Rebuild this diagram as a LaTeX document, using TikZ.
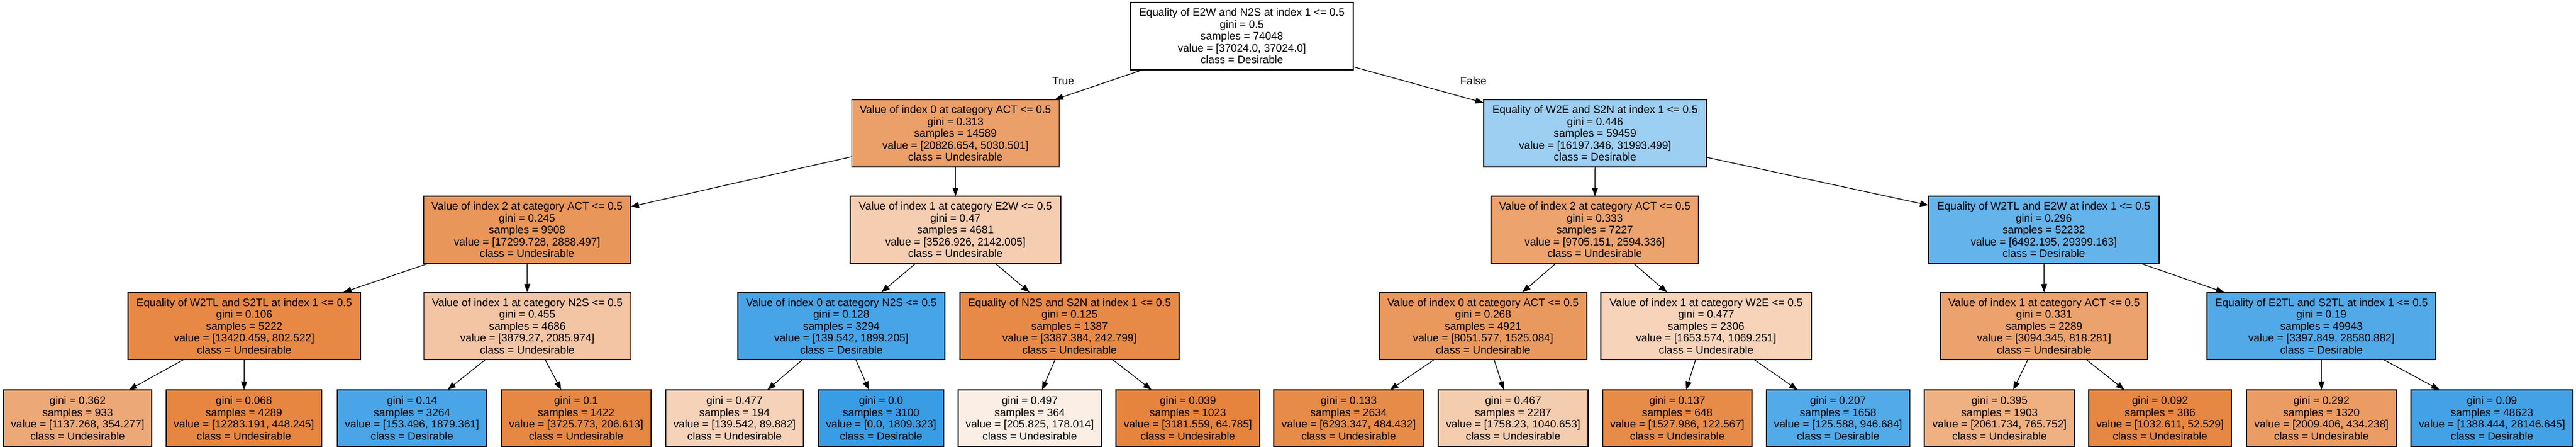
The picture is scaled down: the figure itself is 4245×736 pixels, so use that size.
\documentclass[tikz,border=0pt]{standalone}
\usepackage{fontspec}
\setmainfont{Liberation Sans}
\usetikzlibrary{arrows.meta}
\definecolor{dtorange}{RGB}{229,129,57}
\definecolor{dtblue}{RGB}{57,157,229}
\begin{document}
\begin{tikzpicture}[x=1pt,y=-1pt,
 tnode/.style={draw=black, line width=1.3pt, inner sep=0pt, outer sep=0pt, align=center, font=\fontsize{17.8}{19.5}\selectfont},
 inode/.style={tnode, minimum height=111pt},
 leaf/.style={tnode, minimum height=93pt},
 edge/.style={line width=1.2pt, -{Triangle[length=14pt,width=10pt]}},
 elabel/.style={font=\fontsize{17.8}{19.5}\selectfont, inner sep=0pt}]
\useasboundingbox (0,0) rectangle (4245,736);
% level 0
\node[inode, minimum width=367pt, fill=white] (root) at (2046.5,59.5) {Equality of E2W and N2S at index 1 <= 0.5\\gini = 0.5\\samples = 74048\\value = [37024.0, 37024.0]\\class = Desirable};
% level 1
\node[inode, minimum width=342pt, fill=dtorange!75.9!white] (l1a) at (1574.5,219.5) {Value of index 0 at category ACT <= 0.5\\gini = 0.313\\samples = 14589\\value = [20826.654, 5030.501]\\class = Undesirable};
\node[inode, minimum width=367pt, fill=dtblue!49.4!white] (l1b) at (2628.5,219.5) {Equality of W2E and S2N at index 1 <= 0.5\\gini = 0.446\\samples = 59459\\value = [16197.346, 31993.499]\\class = Desirable};
% level 2
\node[inode, minimum width=341pt, fill=dtorange!83.3!white] (l2a) at (868.5,378.5) {Value of index 2 at category ACT <= 0.5\\gini = 0.245\\samples = 9908\\value = [17299.728, 2888.497]\\class = Undesirable};
\node[inode, minimum width=347pt, fill=dtorange!39.3!white] (l2b) at (1574.5,378.5) {Value of index 1 at category E2W <= 0.5\\gini = 0.47\\samples = 4681\\value = [3526.926, 2142.005]\\class = Undesirable};
\node[inode, minimum width=342pt, fill=dtorange!73.3!white] (l2c) at (2628,378.5) {Value of index 2 at category ACT <= 0.5\\gini = 0.333\\samples = 7227\\value = [9705.151, 2594.336]\\class = Undesirable};
\node[inode, minimum width=380pt, fill=dtblue!77.9!white] (l2d) at (3368,378.5) {Equality of W2TL and E2W at index 1 <= 0.5\\gini = 0.296\\samples = 52232\\value = [6492.195, 29399.163]\\class = Desirable};
% level 3
\node[inode, minimum width=383pt, fill=dtorange!94.0!white] (l3a) at (402.5,537) {Equality of W2TL and S2TL at index 1 <= 0.5\\gini = 0.106\\samples = 5222\\value = [13420.459, 802.522]\\class = Undesirable};
\node[inode, minimum width=341pt, fill=dtorange!46.2!white] (l3b) at (869,537) {Value of index 1 at category N2S <= 0.5\\gini = 0.455\\samples = 4686\\value = [3879.27, 2085.974]\\class = Undesirable};
\node[inode, minimum width=341pt, fill=dtblue!92.7!white] (l3c) at (1386.5,537) {Value of index 0 at category N2S <= 0.5\\gini = 0.128\\samples = 3294\\value = [139.542, 1899.205]\\class = Desirable};
\node[inode, minimum width=361pt, fill=dtorange!92.8!white] (l3d) at (1762.5,537) {Equality of N2S and S2N at index 1 <= 0.5\\gini = 0.125\\samples = 1387\\value = [3387.384, 242.799]\\class = Undesirable};
\node[inode, minimum width=342pt, fill=dtorange!81.1!white] (l3e) at (2444,537) {Value of index 0 at category ACT <= 0.5\\gini = 0.268\\samples = 4921\\value = [8051.577, 1525.084]\\class = Undesirable};
\node[inode, minimum width=347pt, fill=dtorange!35.3!white] (l3f) at (2811.5,537) {Value of index 1 at category W2E <= 0.5\\gini = 0.477\\samples = 2306\\value = [1653.574, 1069.251]\\class = Undesirable};
\node[inode, minimum width=341pt, fill=dtorange!73.6!white] (l3g) at (3368.5,537) {Value of index 1 at category ACT <= 0.5\\gini = 0.331\\samples = 2289\\value = [3094.345, 818.281]\\class = Undesirable};
\node[inode, minimum width=377pt, fill=dtblue!88.1!white] (l3h) at (3825.5,537) {Equality of E2TL and S2TL at index 1 <= 0.5\\gini = 0.19\\samples = 49943\\value = [3397.849, 28580.882]\\class = Desirable};
% leaves
\node[leaf, minimum width=244pt, fill=dtorange!68.9!white] (f1) at (128,688.5) {gini = 0.362\\samples = 933\\value = [1137.268, 354.277]\\class = Undesirable};
\node[leaf, minimum width=256pt, fill=dtorange!96.4!white] (f2) at (402,688.5) {gini = 0.068\\samples = 4289\\value = [12283.191, 448.245]\\class = Undesirable};
\node[leaf, minimum width=246pt, fill=dtblue!91.8!white] (f3) at (679,688.5) {gini = 0.14\\samples = 3264\\value = [153.496, 1879.361]\\class = Desirable};
\node[leaf, minimum width=247pt, fill=dtorange!94.5!white] (f4) at (949.5,688.5) {gini = 0.1\\samples = 1422\\value = [3725.773, 206.613]\\class = Undesirable};
\node[leaf, minimum width=227pt, fill=dtorange!35.6!white] (f5) at (1210.5,688.5) {gini = 0.477\\samples = 194\\value = [139.542, 89.882]\\class = Undesirable};
\node[leaf, minimum width=206pt, fill=dtblue] (f6) at (1452,688.5) {gini = 0.0\\samples = 3100\\value = [0.0, 1809.323]\\class = Desirable};
\node[leaf, minimum width=236pt, fill=dtorange!13.5!white] (f7) at (1697,688.5) {gini = 0.497\\samples = 364\\value = [205.825, 178.014]\\class = Undesirable};
\node[leaf, minimum width=237pt, fill=dtorange!98.0!white] (f8) at (1957.5,688.5) {gini = 0.039\\samples = 1023\\value = [3181.559, 64.785]\\class = Undesirable};
\node[leaf, minimum width=247pt, fill=dtorange!92.3!white] (f9) at (2222.5,688.5) {gini = 0.133\\samples = 2634\\value = [6293.347, 484.432]\\class = Undesirable};
\node[leaf, minimum width=247pt, fill=dtorange!40.8!white] (f10) at (2493.5,688.5) {gini = 0.467\\samples = 2287\\value = [1758.23, 1040.653]\\class = Undesirable};
\node[leaf, minimum width=246pt, fill=dtorange!92.0!white] (f11) at (2764,688.5) {gini = 0.137\\samples = 648\\value = [1527.986, 122.567]\\class = Undesirable};
\node[leaf, minimum width=236pt, fill=dtblue!86.7!white] (f12) at (3029,688.5) {gini = 0.207\\samples = 1658\\value = [125.588, 946.684]\\class = Desirable};
\node[leaf, minimum width=248pt, fill=dtorange!62.9!white] (f13) at (3295,688.5) {gini = 0.395\\samples = 1903\\value = [2061.734, 765.752]\\class = Undesirable};
\node[leaf, minimum width=235pt, fill=dtorange!94.9!white] (f14) at (3559.5,688.5) {gini = 0.092\\samples = 386\\value = [1032.611, 52.529]\\class = Undesirable};
\node[leaf, minimum width=247pt, fill=dtorange!78.4!white] (f15) at (3825.5,688.5) {gini = 0.292\\samples = 1320\\value = [2009.406, 434.238]\\class = Undesirable};
\node[leaf, minimum width=267pt, fill=dtblue!95.1!white] (f16) at (4106.5,688.5) {gini = 0.09\\samples = 48623\\value = [1388.444, 28146.645]\\class = Desirable};
% edges
\draw[edge] (root) -- (l1a);
\draw[edge] (root) -- (l1b);
\draw[edge] (l1a) -- (l2a);
\draw[edge] (l1a) -- (l2b);
\draw[edge] (l1b) -- (l2c);
\draw[edge] (l1b) -- (l2d);
\draw[edge] (l2a) -- (l3a);
\draw[edge] (l2a) -- (l3b);
\draw[edge] (l2b) -- (l3c);
\draw[edge] (l2b) -- (l3d);
\draw[edge] (l2c) -- (l3e);
\draw[edge] (l2c) -- (l3f);
\draw[edge] (l2d) -- (l3g);
\draw[edge] (l2d) -- (l3h);
\draw[edge] (l3a) -- (f1);
\draw[edge] (l3a) -- (f2);
\draw[edge] (l3b) -- (f3);
\draw[edge] (l3b) -- (f4);
\draw[edge] (l3c) -- (f5);
\draw[edge] (l3c) -- (f6);
\draw[edge] (l3d) -- (f7);
\draw[edge] (l3d) -- (f8);
\draw[edge] (l3e) -- (f9);
\draw[edge] (l3e) -- (f10);
\draw[edge] (l3f) -- (f11);
\draw[edge] (l3f) -- (f12);
\draw[edge] (l3g) -- (f13);
\draw[edge] (l3g) -- (f14);
\draw[edge] (l3h) -- (f15);
\draw[edge] (l3h) -- (f16);
% edge labels
\node[elabel] (ltrue) at (1752,133) {True};
\node[elabel] (lfalse) at (2428,133) {False};
\end{tikzpicture}
\end{document}
